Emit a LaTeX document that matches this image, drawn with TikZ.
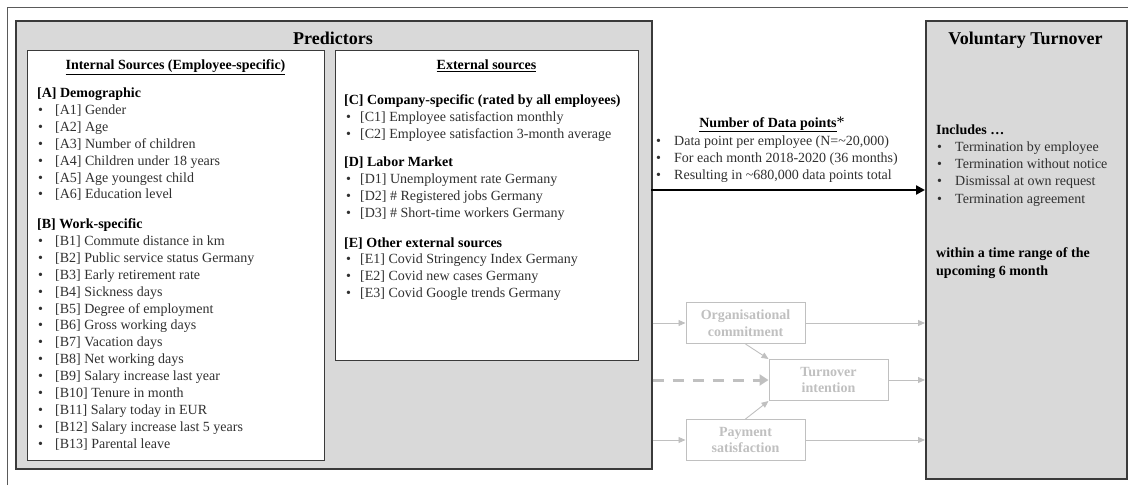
\documentclass[tikz,border=0pt]{standalone}
\usepackage{fontspec}
\setmainfont{Liberation Serif}
\usetikzlibrary{arrows.meta}
\definecolor{panel}{HTML}{D9D9D9}
\definecolor{edge}{HTML}{3A3A3A}
\definecolor{itemtext}{HTML}{303030}
\definecolor{faded}{HTML}{C0C0C0}
\definecolor{framegrey}{HTML}{5A5A5A}
\newcommand\bulletbox[1]{\makebox[#1][l]{\textbullet}}

\begin{document}
\begin{tikzpicture}[x=1pt,y=-1pt,
  panelbox/.style={draw=edge, line width=1.6pt, fill=panel, anchor=north west, inner sep=0pt},
  listbox/.style={draw=edge, line width=1.3pt, fill=white, anchor=north west, inner sep=0pt},
  bigtitle/.style={font=\fontsize{18}{20}\selectfont\bfseries, anchor=base, inner sep=0pt},
  subtitle/.style={font=\fontsize{14}{16}\selectfont\bfseries, anchor=base, inner sep=0pt},
  group/.style={font=\fontsize{14}{16}\selectfont\bfseries, anchor=base west, inner sep=0pt},
  item/.style={font=\fontsize{14}{16}\selectfont, text=itemtext, anchor=base west, inner sep=0pt},
  fadedbox/.style={draw=faded, line width=1pt, fill=white, text=faded, align=center,
    font=\fontsize{14}{16.5}\selectfont\bfseries, minimum width=119pt, minimum height=41pt, inner sep=0pt},
  fadedarrow/.style={draw=faded, line width=0.9pt, -{Triangle[length=7pt,width=6pt]}},
  mainarrow/.style={draw=black, line width=2.6pt, -{Triangle[length=9pt,width=9pt]}}
]
\useasboundingbox (0,0) rectangle (1128,485);

% thin outer frame (top and left)
\draw[framegrey, line width=0.9pt] (7,485) -- (7,7) -- (1128,7);

% main panels
\node[panelbox, minimum width=636pt, minimum height=448pt] (pred) at (15,20) {};
\node[panelbox, minimum width=201pt, minimum height=458pt] (vt) at (925,20) {};
\node[listbox, minimum width=297pt, minimum height=410pt] (internal) at (27,50) {};
\node[listbox, minimum width=303pt, minimum height=310pt] (external) at (335,50) {};

\node[bigtitle] (predtitle) at (333,44) {Predictors};
\node[bigtitle] (vttitle) at (1025.5,44) {Voluntary Turnover};

% internal sources
\node[subtitle] (inthead) at (175.5,69.5) {\underline{Internal Sources (Employee-specific)}};
\node[group] (grpA) at (37,97.5) {[A] Demographic};
\foreach \t [count=\i from 0] in {{[A1] Gender},{[A2] Age},{[A3] Number of children},
  {[A4] Children under 18 years},{[A5] Age youngest child},{[A6] Education level}}
  \node[item, name=a\i] at (38,114.4+\i*16.9) {\bulletbox{17pt}\t};
\node[group] (grpB) at (37,228.5) {[B] Work-specific};
\foreach \t [count=\i from 0] in {{[B1] Commute distance in km},{[B2] Public service status Germany},
  {[B3] Early retirement rate},{[B4] Sickness days},{[B5] Degree of employment},
  {[B6] Gross working days},{[B7] Vacation days},{[B8] Net working days},
  {[B9] Salary increase last year},{[B10] Tenure in month},{[B11] Salary today in EUR},
  {[B12] Salary increase last 5 years},{[B13] Parental leave}}
  \node[item, name=b\i] at (38,245.4+\i*16.9) {\bulletbox{17pt}\t};

% external sources
\node[subtitle] (exthead) at (486.5,69.5) {\underline{External sources}};
\node[group] (grpC) at (344,104.5) {[C] Company-specific (rated by all employees)};
\foreach \t [count=\i from 0] in {{[C1] Employee satisfaction monthly},
  {[C2] Employee satisfaction 3-month average}}
  \node[item, name=c\i] at (346,121.4+\i*16.9) {\bulletbox{14pt}\t};
\node[group] (grpD) at (344,166.5) {[D] Labor Market};
\foreach \t [count=\i from 0] in {{[D1] Unemployment rate Germany},
  {[D2] \# Registered jobs Germany},{[D3] \# Short-time workers Germany}}
  \node[item, name=d\i] at (346,183.4+\i*16.9) {\bulletbox{14pt}\t};
\node[group] (grpE) at (344,247) {[E] Other external sources};
\foreach \t [count=\i from 0] in {{[E1] Covid Stringency Index Germany},
  {[E2] Covid new cases Germany},{[E3] Covid Google trends Germany}}
  \node[item, name=e\i] at (346,263.9+\i*16.9) {\bulletbox{14pt}\t};

% data points
\node[subtitle] (dphead) at (772,127) {\underline{Number of Data points}{\mdseries\fontsize{16}{18}\selectfont*}};
\foreach \t [count=\i from 0] in {{Data point per employee (N=\textasciitilde20,000)},
  {For each month 2018-2020 (36 months)},{Resulting in \textasciitilde680,000 data points total}}
  \node[item, name=dp\i] at (656,145.5+\i*16.9) {\bulletbox{18pt}\t};
\coordinate (dstart) at (651,190);
\draw[mainarrow] (dstart) -- (dstart -| vt.west);

% voluntary turnover details
\node[group] (incl) at (936,134.5) {Includes \dots};
\foreach \t [count=\i from 0] in {{Termination by employee},{Termination without notice},
  {Dismissal at own request},{Termination agreement}}
  \node[item, name=v\i] at (937,151.5+\i*17.2) {\bulletbox{18pt}\t};
\node[group, align=left] (range) at (936,257.5) {within a time range of the};
\node[group] (range2) at (936,275) {upcoming 6 month};

% mediating constructs
\node[fadedbox] (org) at (745.5,323) {Organisational\\commitment};
\node[fadedbox] (turn) at (828.5,380) {Turnover\\intention};
\node[fadedbox] (pay) at (745.5,440) {Payment\\satisfaction};

\draw[fadedarrow] (org.west -| pred.east) -- (org.west);
\draw[fadedarrow] (org.east) -- (org.east -| vt.west);
\draw[fadedarrow, line width=3pt, dash pattern=on 11pt off 9pt, -{Triangle[length=9pt,width=11pt]}]
  (turn.west -| pred.east) -- (turn.west);
\draw[fadedarrow] (turn.east) -- (turn.east -| vt.west);
\draw[fadedarrow] (pay.west -| pred.east) -- (pay.west);
\draw[fadedarrow] (pay.east) -- (pay.east -| vt.west);
\draw[fadedarrow] (org.south) -- (turn.north west);
\draw[fadedarrow] (pay.north) -- (turn.south west);
\end{tikzpicture}
\end{document}
